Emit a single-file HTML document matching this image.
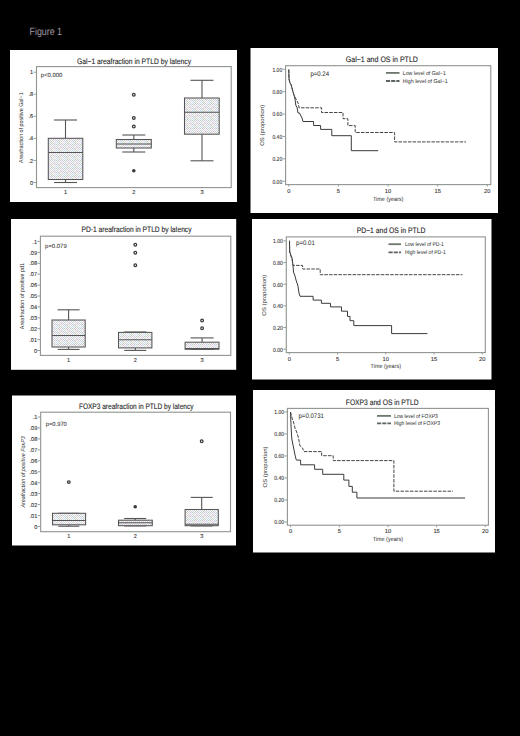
<!DOCTYPE html>
<html><head><meta charset="utf-8"><title>Figure 1</title>
<style>
html,body{margin:0;padding:0;background:#000;}
body{width:520px;height:736px;overflow:hidden;}
svg{display:block;}
text{font-family:"Liberation Sans",sans-serif;text-rendering:geometricPrecision;}
</style></head><body>
<svg width="520" height="736" viewBox="0 0 520 736">
<defs><pattern id="stip" patternUnits="userSpaceOnUse" x="0" y="0" width="8" height="8">
<rect width="8" height="8" fill="#ffffff"/>
<rect x="0" y="0" width="1" height="1" fill="#c0c8c0"/><rect x="1" y="0" width="1" height="1" fill="#f0f8fb"/><rect x="2" y="0" width="1" height="1" fill="#c0c8c0"/><rect x="3" y="0" width="1" height="1" fill="#fbf0f8"/><rect x="4" y="0" width="1" height="1" fill="#ccccea"/><rect x="6" y="0" width="1" height="1" fill="#c0c8c0"/><rect x="7" y="0" width="1" height="1" fill="#f0f8fb"/><rect x="1" y="1" width="1" height="1" fill="#c8e2e6"/><rect x="2" y="1" width="1" height="1" fill="#fbf0f8"/><rect x="3" y="1" width="1" height="1" fill="#eaccc8"/><rect x="5" y="1" width="1" height="1" fill="#c8e2e6"/><rect x="6" y="1" width="1" height="1" fill="#f0f8fb"/><rect x="7" y="1" width="1" height="1" fill="#e6c8e2"/><rect x="0" y="2" width="1" height="1" fill="#c6dcc6"/><rect x="1" y="2" width="1" height="1" fill="#fbf0f8"/><rect x="2" y="2" width="1" height="1" fill="#ece6c6"/><rect x="3" y="2" width="1" height="1" fill="#f0f8fb"/><rect x="4" y="2" width="1" height="1" fill="#e6c8e2"/><rect x="5" y="2" width="1" height="1" fill="#f0f8fb"/><rect x="6" y="2" width="1" height="1" fill="#c8e2e6"/><rect x="1" y="3" width="1" height="1" fill="#ccccea"/><rect x="3" y="3" width="1" height="1" fill="#e6c8e2"/><rect x="4" y="3" width="1" height="1" fill="#fbf0f8"/><rect x="5" y="3" width="1" height="1" fill="#bcc8bc"/><rect x="6" y="3" width="1" height="1" fill="#fbf0f8"/><rect x="7" y="3" width="1" height="1" fill="#ccccea"/><rect x="0" y="4" width="1" height="1" fill="#ccccea"/><rect x="1" y="4" width="1" height="1" fill="#f2f2f2"/><rect x="2" y="4" width="1" height="1" fill="#c0c8c0"/><rect x="4" y="4" width="1" height="1" fill="#c8e2e6"/><rect x="5" y="4" width="1" height="1" fill="#fbf0f8"/><rect x="6" y="4" width="1" height="1" fill="#eaccc8"/><rect x="7" y="4" width="1" height="1" fill="#fbf0f8"/><rect x="0" y="5" width="1" height="1" fill="#f0f8fb"/><rect x="1" y="5" width="1" height="1" fill="#c8e2e6"/><rect x="2" y="5" width="1" height="1" fill="#f2f2f2"/><rect x="3" y="5" width="1" height="1" fill="#bcc8bc"/><rect x="5" y="5" width="1" height="1" fill="#eaccc8"/><rect x="7" y="5" width="1" height="1" fill="#c8e2e6"/><rect x="0" y="6" width="1" height="1" fill="#c8e2e6"/><rect x="1" y="6" width="1" height="1" fill="#fbf0f8"/><rect x="2" y="6" width="1" height="1" fill="#c8e2e6"/><rect x="3" y="6" width="1" height="1" fill="#f2f2f2"/><rect x="4" y="6" width="1" height="1" fill="#c6dcc6"/><rect x="6" y="6" width="1" height="1" fill="#e6c8e2"/><rect x="1" y="7" width="1" height="1" fill="#ccccea"/><rect x="3" y="7" width="1" height="1" fill="#c0c8c0"/><rect x="4" y="7" width="1" height="1" fill="#fbf0f8"/><rect x="5" y="7" width="1" height="1" fill="#c6dcc6"/><rect x="6" y="7" width="1" height="1" fill="#fbf0f8"/><rect x="7" y="7" width="1" height="1" fill="#c8e2e6"/>
</pattern></defs>
<rect x="0" y="0" width="520" height="736" fill="#000"/>

<text x="29.50" y="34.80" font-size="10.5" fill="#a39aa3" textLength="32.50" lengthAdjust="spacingAndGlyphs" >Figure 1</text>
<rect x="10.00" y="50.00" width="227.00" height="152.00" fill="#ffffff" stroke="none" stroke-width="1"/>
<rect x="36.50" y="66.60" width="194.70" height="121.00" fill="none" stroke="#8e948e" stroke-width="1.1"/>
<text x="77.00" y="63.60" font-size="8.0" fill="#262626" stroke="#262626" stroke-width="0.12" textLength="114.00" lengthAdjust="spacingAndGlyphs" >Gal−1 areafraction in PTLD by latency</text>
<line x1="33.50" y1="182.50" x2="36.50" y2="182.50" stroke="#8e948e" stroke-width="0.9" />
<text x="33.10" y="184.60" font-size="5.6" fill="#2e2e2e" stroke="#2e2e2e" stroke-width="0.08" text-anchor="end" >0</text>
<line x1="33.50" y1="160.44" x2="36.50" y2="160.44" stroke="#8e948e" stroke-width="0.9" />
<text x="33.10" y="162.54" font-size="5.6" fill="#2e2e2e" stroke="#2e2e2e" stroke-width="0.08" text-anchor="end" >.2</text>
<line x1="33.50" y1="138.38" x2="36.50" y2="138.38" stroke="#8e948e" stroke-width="0.9" />
<text x="33.10" y="140.48" font-size="5.6" fill="#2e2e2e" stroke="#2e2e2e" stroke-width="0.08" text-anchor="end" >.4</text>
<line x1="33.50" y1="116.32" x2="36.50" y2="116.32" stroke="#8e948e" stroke-width="0.9" />
<text x="33.10" y="118.42" font-size="5.6" fill="#2e2e2e" stroke="#2e2e2e" stroke-width="0.08" text-anchor="end" >.6</text>
<line x1="33.50" y1="94.26" x2="36.50" y2="94.26" stroke="#8e948e" stroke-width="0.9" />
<text x="33.10" y="96.36" font-size="5.6" fill="#2e2e2e" stroke="#2e2e2e" stroke-width="0.08" text-anchor="end" >.8</text>
<line x1="33.50" y1="72.20" x2="36.50" y2="72.20" stroke="#8e948e" stroke-width="0.9" />
<text x="33.10" y="74.30" font-size="5.6" fill="#2e2e2e" stroke="#2e2e2e" stroke-width="0.08" text-anchor="end" >1</text>
<text x="0.00" y="0.00" font-size="5.8" fill="#2e2e2e" text-anchor="middle" textLength="70.70" lengthAdjust="spacingAndGlyphs" transform="translate(21.50,127.70) rotate(-90)" dy="1.9">Areafraction of positive Gal−1</text>
<text x="65.50" y="194.10" font-size="5.6" fill="#2e2e2e" stroke="#2e2e2e" stroke-width="0.08" text-anchor="middle" >1</text>
<line x1="65.50" y1="120.00" x2="65.50" y2="138.30" stroke="#555555" stroke-width="1.1" />
<line x1="54.00" y1="120.00" x2="77.00" y2="120.00" stroke="#555555" stroke-width="1.1" />
<line x1="65.50" y1="179.50" x2="65.50" y2="182.50" stroke="#555555" stroke-width="1.1" />
<line x1="54.00" y1="182.50" x2="77.00" y2="182.50" stroke="#555555" stroke-width="1.1" />
<rect x="48.30" y="138.30" width="34.50" height="41.20" fill="url(#stip)" stroke="#555555" stroke-width="1.05"/>
<line x1="48.30" y1="152.50" x2="82.80" y2="152.50" stroke="#555555" stroke-width="1.05" />
<text x="133.80" y="194.10" font-size="5.6" fill="#2e2e2e" stroke="#2e2e2e" stroke-width="0.08" text-anchor="middle" >2</text>
<line x1="133.80" y1="135.00" x2="133.80" y2="139.50" stroke="#555555" stroke-width="1.1" />
<line x1="122.30" y1="135.00" x2="145.30" y2="135.00" stroke="#555555" stroke-width="1.1" />
<line x1="133.80" y1="148.00" x2="133.80" y2="152.00" stroke="#555555" stroke-width="1.1" />
<line x1="122.30" y1="152.00" x2="145.30" y2="152.00" stroke="#555555" stroke-width="1.1" />
<rect x="116.30" y="139.50" width="35.00" height="8.50" fill="url(#stip)" stroke="#555555" stroke-width="1.05"/>
<line x1="116.30" y1="144.00" x2="151.30" y2="144.00" stroke="#555555" stroke-width="1.05" />
<circle cx="133.80" cy="94.80" r="1.35" fill="#fff" stroke="#3a3a3a" stroke-width="1.25"/>
<circle cx="133.80" cy="118.00" r="1.35" fill="#fff" stroke="#3a3a3a" stroke-width="1.25"/>
<circle cx="133.80" cy="126.40" r="1.35" fill="#fff" stroke="#3a3a3a" stroke-width="1.25"/>
<circle cx="133.80" cy="170.80" r="1.8" fill="#3a3a3a"/>
<text x="202.00" y="194.10" font-size="5.6" fill="#2e2e2e" stroke="#2e2e2e" stroke-width="0.08" text-anchor="middle" >3</text>
<line x1="202.00" y1="80.30" x2="202.00" y2="98.00" stroke="#555555" stroke-width="1.1" />
<line x1="190.50" y1="80.30" x2="213.50" y2="80.30" stroke="#555555" stroke-width="1.1" />
<line x1="202.00" y1="134.20" x2="202.00" y2="160.80" stroke="#555555" stroke-width="1.1" />
<line x1="190.50" y1="160.80" x2="213.50" y2="160.80" stroke="#555555" stroke-width="1.1" />
<rect x="184.50" y="98.00" width="34.70" height="36.20" fill="url(#stip)" stroke="#555555" stroke-width="1.05"/>
<line x1="184.50" y1="112.30" x2="219.20" y2="112.30" stroke="#555555" stroke-width="1.05" />
<text x="40.80" y="76.70" font-size="6.0" fill="#2e2e2e" stroke="#2e2e2e" stroke-width="0.05" textLength="21.60" lengthAdjust="spacingAndGlyphs" >p&lt;0.000</text>
<rect x="11.00" y="219.00" width="225.20" height="150.80" fill="#ffffff" stroke="none" stroke-width="1"/>
<rect x="40.40" y="236.20" width="190.40" height="119.20" fill="none" stroke="#8e948e" stroke-width="1.1"/>
<text x="81.50" y="232.40" font-size="8.0" fill="#262626" stroke="#262626" stroke-width="0.12" textLength="110.00" lengthAdjust="spacingAndGlyphs" >PD-1 areafraction in PTLD by latency</text>
<line x1="37.40" y1="350.50" x2="40.40" y2="350.50" stroke="#8e948e" stroke-width="0.9" />
<text x="37.00" y="352.60" font-size="5.6" fill="#2e2e2e" stroke="#2e2e2e" stroke-width="0.08" text-anchor="end" >0</text>
<line x1="37.40" y1="339.60" x2="40.40" y2="339.60" stroke="#8e948e" stroke-width="0.9" />
<text x="37.00" y="341.70" font-size="5.6" fill="#2e2e2e" stroke="#2e2e2e" stroke-width="0.08" text-anchor="end" >.01</text>
<line x1="37.40" y1="328.70" x2="40.40" y2="328.70" stroke="#8e948e" stroke-width="0.9" />
<text x="37.00" y="330.80" font-size="5.6" fill="#2e2e2e" stroke="#2e2e2e" stroke-width="0.08" text-anchor="end" >.02</text>
<line x1="37.40" y1="317.80" x2="40.40" y2="317.80" stroke="#8e948e" stroke-width="0.9" />
<text x="37.00" y="319.90" font-size="5.6" fill="#2e2e2e" stroke="#2e2e2e" stroke-width="0.08" text-anchor="end" >.03</text>
<line x1="37.40" y1="306.90" x2="40.40" y2="306.90" stroke="#8e948e" stroke-width="0.9" />
<text x="37.00" y="309.00" font-size="5.6" fill="#2e2e2e" stroke="#2e2e2e" stroke-width="0.08" text-anchor="end" >.04</text>
<line x1="37.40" y1="296.00" x2="40.40" y2="296.00" stroke="#8e948e" stroke-width="0.9" />
<text x="37.00" y="298.10" font-size="5.6" fill="#2e2e2e" stroke="#2e2e2e" stroke-width="0.08" text-anchor="end" >.05</text>
<line x1="37.40" y1="285.10" x2="40.40" y2="285.10" stroke="#8e948e" stroke-width="0.9" />
<text x="37.00" y="287.20" font-size="5.6" fill="#2e2e2e" stroke="#2e2e2e" stroke-width="0.08" text-anchor="end" >.06</text>
<line x1="37.40" y1="274.20" x2="40.40" y2="274.20" stroke="#8e948e" stroke-width="0.9" />
<text x="37.00" y="276.30" font-size="5.6" fill="#2e2e2e" stroke="#2e2e2e" stroke-width="0.08" text-anchor="end" >.07</text>
<line x1="37.40" y1="263.30" x2="40.40" y2="263.30" stroke="#8e948e" stroke-width="0.9" />
<text x="37.00" y="265.40" font-size="5.6" fill="#2e2e2e" stroke="#2e2e2e" stroke-width="0.08" text-anchor="end" >.08</text>
<line x1="37.40" y1="252.40" x2="40.40" y2="252.40" stroke="#8e948e" stroke-width="0.9" />
<text x="37.00" y="254.50" font-size="5.6" fill="#2e2e2e" stroke="#2e2e2e" stroke-width="0.08" text-anchor="end" >.09</text>
<line x1="37.40" y1="241.50" x2="40.40" y2="241.50" stroke="#8e948e" stroke-width="0.9" />
<text x="37.00" y="243.60" font-size="5.6" fill="#2e2e2e" stroke="#2e2e2e" stroke-width="0.08" text-anchor="end" >.1</text>
<text x="0.00" y="0.00" font-size="5.8" fill="#2e2e2e" text-anchor="middle" textLength="66.30" lengthAdjust="spacingAndGlyphs" transform="translate(22.10,296.00) rotate(-90)" dy="1.9">Areafraction of positive pd1</text>
<text x="68.60" y="361.90" font-size="5.6" fill="#2e2e2e" stroke="#2e2e2e" stroke-width="0.08" text-anchor="middle" >1</text>
<line x1="68.60" y1="309.80" x2="68.60" y2="320.00" stroke="#555555" stroke-width="1.1" />
<line x1="57.60" y1="309.80" x2="79.60" y2="309.80" stroke="#555555" stroke-width="1.1" />
<line x1="68.60" y1="347.00" x2="68.60" y2="349.40" stroke="#555555" stroke-width="1.1" />
<line x1="57.60" y1="349.40" x2="79.60" y2="349.40" stroke="#555555" stroke-width="1.1" />
<rect x="52.00" y="320.00" width="33.20" height="27.00" fill="url(#stip)" stroke="#555555" stroke-width="1.05"/>
<line x1="52.00" y1="335.40" x2="85.20" y2="335.40" stroke="#555555" stroke-width="1.05" />
<text x="135.30" y="361.90" font-size="5.6" fill="#2e2e2e" stroke="#2e2e2e" stroke-width="0.08" text-anchor="middle" >2</text>
<line x1="135.30" y1="332.00" x2="135.30" y2="332.40" stroke="#555555" stroke-width="1.1" />
<line x1="124.30" y1="332.00" x2="146.30" y2="332.00" stroke="#555555" stroke-width="1.1" />
<line x1="135.30" y1="347.90" x2="135.30" y2="350.40" stroke="#555555" stroke-width="1.1" />
<line x1="124.30" y1="350.40" x2="146.30" y2="350.40" stroke="#555555" stroke-width="1.1" />
<rect x="118.50" y="332.40" width="33.40" height="15.50" fill="url(#stip)" stroke="#555555" stroke-width="1.05"/>
<line x1="118.50" y1="339.70" x2="151.90" y2="339.70" stroke="#555555" stroke-width="1.05" />
<circle cx="135.30" cy="244.80" r="1.35" fill="#fff" stroke="#3a3a3a" stroke-width="1.25"/>
<circle cx="135.30" cy="252.80" r="1.35" fill="#fff" stroke="#3a3a3a" stroke-width="1.25"/>
<circle cx="135.30" cy="265.20" r="1.35" fill="#fff" stroke="#3a3a3a" stroke-width="1.25"/>
<text x="202.10" y="361.90" font-size="5.6" fill="#2e2e2e" stroke="#2e2e2e" stroke-width="0.08" text-anchor="middle" >3</text>
<line x1="202.10" y1="337.90" x2="202.10" y2="342.20" stroke="#555555" stroke-width="1.1" />
<line x1="190.60" y1="337.90" x2="213.60" y2="337.90" stroke="#555555" stroke-width="1.1" />
<line x1="190.60" y1="349.40" x2="213.60" y2="349.40" stroke="#555555" stroke-width="1.1" />
<rect x="185.10" y="342.20" width="33.90" height="7.00" fill="url(#stip)" stroke="#555555" stroke-width="1.05"/>
<line x1="185.10" y1="348.60" x2="219.00" y2="348.60" stroke="#555555" stroke-width="1.05" />
<circle cx="202.10" cy="320.40" r="1.35" fill="#fff" stroke="#3a3a3a" stroke-width="1.25"/>
<circle cx="202.10" cy="328.20" r="1.35" fill="#fff" stroke="#3a3a3a" stroke-width="1.25"/>
<text x="45.10" y="248.00" font-size="6.0" fill="#2e2e2e" stroke="#2e2e2e" stroke-width="0.05" textLength="21.60" lengthAdjust="spacingAndGlyphs" >p=0.079</text>
<rect x="12.00" y="395.50" width="224.00" height="150.00" fill="#ffffff" stroke="none" stroke-width="1"/>
<rect x="40.70" y="412.20" width="189.80" height="119.50" fill="none" stroke="#8e948e" stroke-width="1.1"/>
<text x="78.90" y="409.10" font-size="8.0" fill="#262626" stroke="#262626" stroke-width="0.12" textLength="114.60" lengthAdjust="spacingAndGlyphs" >FOXP3 areafraction in PTLD by latency</text>
<line x1="37.70" y1="526.50" x2="40.70" y2="526.50" stroke="#8e948e" stroke-width="0.9" />
<text x="37.30" y="528.60" font-size="5.6" fill="#2e2e2e" stroke="#2e2e2e" stroke-width="0.08" text-anchor="end" >0</text>
<line x1="37.70" y1="515.55" x2="40.70" y2="515.55" stroke="#8e948e" stroke-width="0.9" />
<text x="37.30" y="517.65" font-size="5.6" fill="#2e2e2e" stroke="#2e2e2e" stroke-width="0.08" text-anchor="end" >.01</text>
<line x1="37.70" y1="504.60" x2="40.70" y2="504.60" stroke="#8e948e" stroke-width="0.9" />
<text x="37.30" y="506.70" font-size="5.6" fill="#2e2e2e" stroke="#2e2e2e" stroke-width="0.08" text-anchor="end" >.02</text>
<line x1="37.70" y1="493.65" x2="40.70" y2="493.65" stroke="#8e948e" stroke-width="0.9" />
<text x="37.30" y="495.75" font-size="5.6" fill="#2e2e2e" stroke="#2e2e2e" stroke-width="0.08" text-anchor="end" >.03</text>
<line x1="37.70" y1="482.70" x2="40.70" y2="482.70" stroke="#8e948e" stroke-width="0.9" />
<text x="37.30" y="484.80" font-size="5.6" fill="#2e2e2e" stroke="#2e2e2e" stroke-width="0.08" text-anchor="end" >.04</text>
<line x1="37.70" y1="471.75" x2="40.70" y2="471.75" stroke="#8e948e" stroke-width="0.9" />
<text x="37.30" y="473.85" font-size="5.6" fill="#2e2e2e" stroke="#2e2e2e" stroke-width="0.08" text-anchor="end" >.05</text>
<line x1="37.70" y1="460.80" x2="40.70" y2="460.80" stroke="#8e948e" stroke-width="0.9" />
<text x="37.30" y="462.90" font-size="5.6" fill="#2e2e2e" stroke="#2e2e2e" stroke-width="0.08" text-anchor="end" >.06</text>
<line x1="37.70" y1="449.85" x2="40.70" y2="449.85" stroke="#8e948e" stroke-width="0.9" />
<text x="37.30" y="451.95" font-size="5.6" fill="#2e2e2e" stroke="#2e2e2e" stroke-width="0.08" text-anchor="end" >.07</text>
<line x1="37.70" y1="438.90" x2="40.70" y2="438.90" stroke="#8e948e" stroke-width="0.9" />
<text x="37.30" y="441.00" font-size="5.6" fill="#2e2e2e" stroke="#2e2e2e" stroke-width="0.08" text-anchor="end" >.08</text>
<line x1="37.70" y1="427.95" x2="40.70" y2="427.95" stroke="#8e948e" stroke-width="0.9" />
<text x="37.30" y="430.05" font-size="5.6" fill="#2e2e2e" stroke="#2e2e2e" stroke-width="0.08" text-anchor="end" >.09</text>
<line x1="37.70" y1="417.00" x2="40.70" y2="417.00" stroke="#8e948e" stroke-width="0.9" />
<text x="37.30" y="419.10" font-size="5.6" fill="#2e2e2e" stroke="#2e2e2e" stroke-width="0.08" text-anchor="end" >.1</text>
<text x="0.00" y="0.00" font-size="5.8" fill="#2e2e2e" text-anchor="middle" textLength="71.20" lengthAdjust="spacingAndGlyphs" transform="translate(22.60,471.90) rotate(-90)" dy="1.9" font-style="italic">Areafraction of positive FoxP3</text>
<text x="68.80" y="538.20" font-size="5.6" fill="#2e2e2e" stroke="#2e2e2e" stroke-width="0.08" text-anchor="middle" >1</text>
<line x1="58.30" y1="513.30" x2="79.30" y2="513.30" stroke="#555555" stroke-width="1.1" />
<line x1="68.80" y1="524.80" x2="68.80" y2="526.20" stroke="#555555" stroke-width="1.1" />
<line x1="58.30" y1="526.20" x2="79.30" y2="526.20" stroke="#555555" stroke-width="1.1" />
<rect x="52.50" y="513.30" width="33.10" height="11.50" fill="url(#stip)" stroke="#555555" stroke-width="1.05"/>
<line x1="52.50" y1="520.40" x2="85.60" y2="520.40" stroke="#555555" stroke-width="1.05" />
<circle cx="68.80" cy="482.10" r="1.35" fill="#fff" stroke="#3a3a3a" stroke-width="1.25"/>
<text x="135.20" y="538.20" font-size="5.6" fill="#2e2e2e" stroke="#2e2e2e" stroke-width="0.08" text-anchor="middle" >2</text>
<line x1="135.20" y1="518.50" x2="135.20" y2="520.20" stroke="#555555" stroke-width="1.1" />
<line x1="124.20" y1="518.50" x2="146.20" y2="518.50" stroke="#555555" stroke-width="1.1" />
<line x1="124.20" y1="525.90" x2="146.20" y2="525.90" stroke="#555555" stroke-width="1.1" />
<rect x="118.50" y="520.20" width="33.80" height="5.50" fill="url(#stip)" stroke="#555555" stroke-width="1.05"/>
<line x1="118.50" y1="522.80" x2="152.30" y2="522.80" stroke="#555555" stroke-width="1.05" />
<circle cx="135.20" cy="506.70" r="1.8" fill="#3a3a3a"/>
<text x="201.70" y="538.20" font-size="5.6" fill="#2e2e2e" stroke="#2e2e2e" stroke-width="0.08" text-anchor="middle" >3</text>
<line x1="201.70" y1="497.40" x2="201.70" y2="509.50" stroke="#555555" stroke-width="1.1" />
<line x1="190.70" y1="497.40" x2="212.70" y2="497.40" stroke="#555555" stroke-width="1.1" />
<line x1="190.70" y1="525.90" x2="212.70" y2="525.90" stroke="#555555" stroke-width="1.1" />
<rect x="185.10" y="509.50" width="33.20" height="16.20" fill="url(#stip)" stroke="#555555" stroke-width="1.05"/>
<line x1="185.10" y1="524.20" x2="218.30" y2="524.20" stroke="#555555" stroke-width="1.05" />
<circle cx="201.70" cy="441.20" r="1.35" fill="#fff" stroke="#3a3a3a" stroke-width="1.25"/>
<text x="45.80" y="425.60" font-size="6.0" fill="#2e2e2e" stroke="#2e2e2e" stroke-width="0.05" textLength="21.00" lengthAdjust="spacingAndGlyphs" >p=0.970</text>
<rect x="250.50" y="48.00" width="247.50" height="165.00" fill="#ffffff" stroke="none" stroke-width="1"/>
<rect x="285.60" y="65.70" width="205.20" height="118.90" fill="none" stroke="#8e948e" stroke-width="1.1"/>
<text x="345.80" y="61.60" font-size="8.0" fill="#262626" stroke="#262626" stroke-width="0.12" textLength="72.10" lengthAdjust="spacingAndGlyphs" >Gal−1 and OS in PTLD</text>
<line x1="282.60" y1="181.20" x2="285.60" y2="181.20" stroke="#8e948e" stroke-width="0.9" />
<text x="282.20" y="183.50" font-size="5.9" fill="#2e2e2e" stroke="#2e2e2e" stroke-width="0.08" text-anchor="end" textLength="9.80" lengthAdjust="spacingAndGlyphs" >0.00</text>
<line x1="282.60" y1="158.82" x2="285.60" y2="158.82" stroke="#8e948e" stroke-width="0.9" />
<text x="282.20" y="161.12" font-size="5.9" fill="#2e2e2e" stroke="#2e2e2e" stroke-width="0.08" text-anchor="end" textLength="9.80" lengthAdjust="spacingAndGlyphs" >0.20</text>
<line x1="282.60" y1="136.44" x2="285.60" y2="136.44" stroke="#8e948e" stroke-width="0.9" />
<text x="282.20" y="138.74" font-size="5.9" fill="#2e2e2e" stroke="#2e2e2e" stroke-width="0.08" text-anchor="end" textLength="9.80" lengthAdjust="spacingAndGlyphs" >0.40</text>
<line x1="282.60" y1="114.06" x2="285.60" y2="114.06" stroke="#8e948e" stroke-width="0.9" />
<text x="282.20" y="116.36" font-size="5.9" fill="#2e2e2e" stroke="#2e2e2e" stroke-width="0.08" text-anchor="end" textLength="9.80" lengthAdjust="spacingAndGlyphs" >0.60</text>
<line x1="282.60" y1="91.68" x2="285.60" y2="91.68" stroke="#8e948e" stroke-width="0.9" />
<text x="282.20" y="93.98" font-size="5.9" fill="#2e2e2e" stroke="#2e2e2e" stroke-width="0.08" text-anchor="end" textLength="9.80" lengthAdjust="spacingAndGlyphs" >0.80</text>
<line x1="282.60" y1="69.30" x2="285.60" y2="69.30" stroke="#8e948e" stroke-width="0.9" />
<text x="282.20" y="71.60" font-size="5.9" fill="#2e2e2e" stroke="#2e2e2e" stroke-width="0.08" text-anchor="end" textLength="9.80" lengthAdjust="spacingAndGlyphs" >1.00</text>
<line x1="288.80" y1="184.60" x2="288.80" y2="186.60" stroke="#8e948e" stroke-width="0.9" />
<text x="288.80" y="192.70" font-size="5.8" fill="#2e2e2e" stroke="#2e2e2e" stroke-width="0.08" text-anchor="middle" >0</text>
<line x1="338.43" y1="184.60" x2="338.43" y2="186.60" stroke="#8e948e" stroke-width="0.9" />
<text x="338.43" y="192.70" font-size="5.8" fill="#2e2e2e" stroke="#2e2e2e" stroke-width="0.08" text-anchor="middle" >5</text>
<line x1="388.05" y1="184.60" x2="388.05" y2="186.60" stroke="#8e948e" stroke-width="0.9" />
<text x="388.05" y="192.70" font-size="5.8" fill="#2e2e2e" stroke="#2e2e2e" stroke-width="0.08" text-anchor="middle" >10</text>
<line x1="437.68" y1="184.60" x2="437.68" y2="186.60" stroke="#8e948e" stroke-width="0.9" />
<text x="437.68" y="192.70" font-size="5.8" fill="#2e2e2e" stroke="#2e2e2e" stroke-width="0.08" text-anchor="middle" >15</text>
<line x1="487.30" y1="184.60" x2="487.30" y2="186.60" stroke="#8e948e" stroke-width="0.9" />
<text x="487.30" y="192.70" font-size="5.8" fill="#2e2e2e" stroke="#2e2e2e" stroke-width="0.08" text-anchor="middle" >20</text>
<text x="388.20" y="200.60" font-size="6.0" fill="#2e2e2e" text-anchor="middle" textLength="30.50" lengthAdjust="spacingAndGlyphs" >Time (years)</text>
<text x="0.00" y="0.00" font-size="5.6" fill="#2e2e2e" text-anchor="middle" textLength="41.00" lengthAdjust="spacingAndGlyphs" transform="translate(262.50,125.30) rotate(-90)" dy="1.9">OS (proportion)</text>
<line x1="385.90" y1="72.90" x2="399.50" y2="72.90" stroke="#6e766e" stroke-width="1.8" />
<line x1="385.90" y1="81.00" x2="399.50" y2="81.00" stroke="#5e645e" stroke-width="1.8" stroke-dasharray="4.2 1.0"/>
<text x="402.80" y="74.80" font-size="5.6" fill="#2e2e2e" textLength="43.00" lengthAdjust="spacingAndGlyphs" >Low level of Gal−1</text>
<text x="402.80" y="82.90" font-size="5.6" fill="#2e2e2e" textLength="44.90" lengthAdjust="spacingAndGlyphs" >High level of Gal−1</text>
<polyline points="288.80,69.50 289.00,79.00 290.00,83.00 291.00,84.50 292.00,88.00 293.00,92.00 294.00,95.00 295.00,99.00 295.50,103.00 296.00,106.00 297.00,107.00 297.50,110.00 298.00,113.00 299.50,113.00 301.00,116.00 302.00,118.00 303.00,121.50 313.60,121.50 313.60,125.50 320.60,125.50 320.60,129.40 331.80,129.40 331.80,135.70 351.30,135.70 351.30,150.70 378.20,150.70" fill="none" stroke="#3a3a3a" stroke-width="1.0" stroke-linejoin="miter"/>
<polyline points="288.80,69.50 289.00,79.00 290.00,83.00 291.00,84.50 292.00,88.00 293.00,92.00 294.00,95.00 295.50,98.00 297.00,101.00 298.50,104.00 299.00,107.80 321.60,107.80 321.60,112.50 343.00,112.50 343.00,118.70 347.90,118.70 347.90,125.60 355.20,125.60 355.20,132.50 394.60,132.50 394.60,141.90 466.00,141.90" fill="none" stroke="#444" stroke-width="1.0" stroke-dasharray="3.5 1.2"/>
<text x="310.40" y="75.60" font-size="6.6" fill="#2e2e2e" stroke="#2e2e2e" stroke-width="0.04" textLength="18.70" lengthAdjust="spacingAndGlyphs" >p=0.24</text>
<rect x="252.00" y="219.00" width="239.50" height="160.50" fill="#ffffff" stroke="none" stroke-width="1"/>
<rect x="286.30" y="236.90" width="199.00" height="115.70" fill="none" stroke="#8e948e" stroke-width="1.1"/>
<text x="356.70" y="233.30" font-size="8.0" fill="#262626" stroke="#262626" stroke-width="0.12" textLength="68.70" lengthAdjust="spacingAndGlyphs" >PD−1 and OS in PTLD</text>
<line x1="283.30" y1="349.20" x2="286.30" y2="349.20" stroke="#8e948e" stroke-width="0.9" />
<text x="282.90" y="351.50" font-size="5.9" fill="#2e2e2e" stroke="#2e2e2e" stroke-width="0.08" text-anchor="end" textLength="9.80" lengthAdjust="spacingAndGlyphs" >0.00</text>
<line x1="283.30" y1="327.54" x2="286.30" y2="327.54" stroke="#8e948e" stroke-width="0.9" />
<text x="282.90" y="329.84" font-size="5.9" fill="#2e2e2e" stroke="#2e2e2e" stroke-width="0.08" text-anchor="end" textLength="9.80" lengthAdjust="spacingAndGlyphs" >0.20</text>
<line x1="283.30" y1="305.88" x2="286.30" y2="305.88" stroke="#8e948e" stroke-width="0.9" />
<text x="282.90" y="308.18" font-size="5.9" fill="#2e2e2e" stroke="#2e2e2e" stroke-width="0.08" text-anchor="end" textLength="9.80" lengthAdjust="spacingAndGlyphs" >0.40</text>
<line x1="283.30" y1="284.22" x2="286.30" y2="284.22" stroke="#8e948e" stroke-width="0.9" />
<text x="282.90" y="286.52" font-size="5.9" fill="#2e2e2e" stroke="#2e2e2e" stroke-width="0.08" text-anchor="end" textLength="9.80" lengthAdjust="spacingAndGlyphs" >0.60</text>
<line x1="283.30" y1="262.56" x2="286.30" y2="262.56" stroke="#8e948e" stroke-width="0.9" />
<text x="282.90" y="264.86" font-size="5.9" fill="#2e2e2e" stroke="#2e2e2e" stroke-width="0.08" text-anchor="end" textLength="9.80" lengthAdjust="spacingAndGlyphs" >0.80</text>
<line x1="283.30" y1="240.90" x2="286.30" y2="240.90" stroke="#8e948e" stroke-width="0.9" />
<text x="282.90" y="243.20" font-size="5.9" fill="#2e2e2e" stroke="#2e2e2e" stroke-width="0.08" text-anchor="end" textLength="9.80" lengthAdjust="spacingAndGlyphs" >1.00</text>
<line x1="289.30" y1="352.60" x2="289.30" y2="354.60" stroke="#8e948e" stroke-width="0.9" />
<text x="289.30" y="360.70" font-size="5.8" fill="#2e2e2e" stroke="#2e2e2e" stroke-width="0.08" text-anchor="middle" >0</text>
<line x1="337.55" y1="352.60" x2="337.55" y2="354.60" stroke="#8e948e" stroke-width="0.9" />
<text x="337.55" y="360.70" font-size="5.8" fill="#2e2e2e" stroke="#2e2e2e" stroke-width="0.08" text-anchor="middle" >5</text>
<line x1="385.80" y1="352.60" x2="385.80" y2="354.60" stroke="#8e948e" stroke-width="0.9" />
<text x="385.80" y="360.70" font-size="5.8" fill="#2e2e2e" stroke="#2e2e2e" stroke-width="0.08" text-anchor="middle" >10</text>
<line x1="434.05" y1="352.60" x2="434.05" y2="354.60" stroke="#8e948e" stroke-width="0.9" />
<text x="434.05" y="360.70" font-size="5.8" fill="#2e2e2e" stroke="#2e2e2e" stroke-width="0.08" text-anchor="middle" >15</text>
<line x1="482.30" y1="352.60" x2="482.30" y2="354.60" stroke="#8e948e" stroke-width="0.9" />
<text x="482.30" y="360.70" font-size="5.8" fill="#2e2e2e" stroke="#2e2e2e" stroke-width="0.08" text-anchor="middle" >20</text>
<text x="385.80" y="367.80" font-size="6.0" fill="#2e2e2e" text-anchor="middle" textLength="30.50" lengthAdjust="spacingAndGlyphs" >Time (years)</text>
<text x="0.00" y="0.00" font-size="5.6" fill="#2e2e2e" text-anchor="middle" textLength="41.00" lengthAdjust="spacingAndGlyphs" transform="translate(263.80,295.20) rotate(-90)" dy="1.9">OS (proportion)</text>
<line x1="388.50" y1="244.20" x2="401.00" y2="244.20" stroke="#6e766e" stroke-width="1.8" />
<line x1="388.50" y1="252.30" x2="401.00" y2="252.30" stroke="#5e645e" stroke-width="1.8" stroke-dasharray="4.2 1.0"/>
<text x="404.90" y="246.10" font-size="5.6" fill="#2e2e2e" textLength="38.90" lengthAdjust="spacingAndGlyphs" >Low level of PD-1</text>
<text x="404.90" y="254.20" font-size="5.6" fill="#2e2e2e" textLength="40.90" lengthAdjust="spacingAndGlyphs" >High level of PD-1</text>
<polyline points="289.50,240.80 289.70,252.00 290.50,254.00 291.00,256.00 292.00,258.00 292.50,262.00 293.00,265.00 293.50,272.00 295.00,276.00 296.00,280.00 297.00,283.00 298.00,286.00 298.50,290.00 299.00,293.00 300.00,296.30 313.10,296.30 313.10,300.10 321.40,300.10 321.40,303.30 330.50,303.30 330.50,306.90 341.50,306.90 341.50,311.20 347.50,311.20 347.50,316.40 350.00,316.40 350.00,320.70 353.80,320.70 353.80,325.60 391.60,325.60 391.60,333.60 427.40,333.60" fill="none" stroke="#3a3a3a" stroke-width="1.0" stroke-linejoin="miter"/>
<polyline points="289.50,240.80 289.70,252.00 290.50,254.00 291.00,256.00 292.00,258.00 292.50,262.00 293.00,265.40 302.60,265.40 302.60,269.00 320.20,269.00 320.20,274.70 462.50,274.70" fill="none" stroke="#444" stroke-width="1.0" stroke-dasharray="3.5 1.2"/>
<text x="296.00" y="245.30" font-size="6.6" fill="#2e2e2e" stroke="#2e2e2e" stroke-width="0.04" textLength="18.80" lengthAdjust="spacingAndGlyphs" >p=0.01</text>
<rect x="253.00" y="390.00" width="242.00" height="162.50" fill="#ffffff" stroke="none" stroke-width="1"/>
<rect x="287.40" y="408.40" width="201.00" height="116.80" fill="none" stroke="#8e948e" stroke-width="1.1"/>
<text x="345.80" y="404.60" font-size="8.0" fill="#262626" stroke="#262626" stroke-width="0.12" textLength="72.70" lengthAdjust="spacingAndGlyphs" >FOXP3 and OS in PTLD</text>
<line x1="284.40" y1="522.00" x2="287.40" y2="522.00" stroke="#8e948e" stroke-width="0.9" />
<text x="284.00" y="524.30" font-size="5.9" fill="#2e2e2e" stroke="#2e2e2e" stroke-width="0.08" text-anchor="end" textLength="9.80" lengthAdjust="spacingAndGlyphs" >0.00</text>
<line x1="284.40" y1="499.98" x2="287.40" y2="499.98" stroke="#8e948e" stroke-width="0.9" />
<text x="284.00" y="502.28" font-size="5.9" fill="#2e2e2e" stroke="#2e2e2e" stroke-width="0.08" text-anchor="end" textLength="9.80" lengthAdjust="spacingAndGlyphs" >0.20</text>
<line x1="284.40" y1="477.96" x2="287.40" y2="477.96" stroke="#8e948e" stroke-width="0.9" />
<text x="284.00" y="480.26" font-size="5.9" fill="#2e2e2e" stroke="#2e2e2e" stroke-width="0.08" text-anchor="end" textLength="9.80" lengthAdjust="spacingAndGlyphs" >0.40</text>
<line x1="284.40" y1="455.94" x2="287.40" y2="455.94" stroke="#8e948e" stroke-width="0.9" />
<text x="284.00" y="458.24" font-size="5.9" fill="#2e2e2e" stroke="#2e2e2e" stroke-width="0.08" text-anchor="end" textLength="9.80" lengthAdjust="spacingAndGlyphs" >0.60</text>
<line x1="284.40" y1="433.92" x2="287.40" y2="433.92" stroke="#8e948e" stroke-width="0.9" />
<text x="284.00" y="436.22" font-size="5.9" fill="#2e2e2e" stroke="#2e2e2e" stroke-width="0.08" text-anchor="end" textLength="9.80" lengthAdjust="spacingAndGlyphs" >0.80</text>
<line x1="284.40" y1="411.90" x2="287.40" y2="411.90" stroke="#8e948e" stroke-width="0.9" />
<text x="284.00" y="414.20" font-size="5.9" fill="#2e2e2e" stroke="#2e2e2e" stroke-width="0.08" text-anchor="end" textLength="9.80" lengthAdjust="spacingAndGlyphs" >1.00</text>
<line x1="290.60" y1="525.20" x2="290.60" y2="527.20" stroke="#8e948e" stroke-width="0.9" />
<text x="290.60" y="533.30" font-size="5.8" fill="#2e2e2e" stroke="#2e2e2e" stroke-width="0.08" text-anchor="middle" >0</text>
<line x1="339.28" y1="525.20" x2="339.28" y2="527.20" stroke="#8e948e" stroke-width="0.9" />
<text x="339.28" y="533.30" font-size="5.8" fill="#2e2e2e" stroke="#2e2e2e" stroke-width="0.08" text-anchor="middle" >5</text>
<line x1="387.95" y1="525.20" x2="387.95" y2="527.20" stroke="#8e948e" stroke-width="0.9" />
<text x="387.95" y="533.30" font-size="5.8" fill="#2e2e2e" stroke="#2e2e2e" stroke-width="0.08" text-anchor="middle" >10</text>
<line x1="436.62" y1="525.20" x2="436.62" y2="527.20" stroke="#8e948e" stroke-width="0.9" />
<text x="436.62" y="533.30" font-size="5.8" fill="#2e2e2e" stroke="#2e2e2e" stroke-width="0.08" text-anchor="middle" >15</text>
<line x1="485.30" y1="525.20" x2="485.30" y2="527.20" stroke="#8e948e" stroke-width="0.9" />
<text x="485.30" y="533.30" font-size="5.8" fill="#2e2e2e" stroke="#2e2e2e" stroke-width="0.08" text-anchor="middle" >20</text>
<text x="387.90" y="541.00" font-size="6.0" fill="#2e2e2e" text-anchor="middle" textLength="30.50" lengthAdjust="spacingAndGlyphs" >Time (years)</text>
<text x="0.00" y="0.00" font-size="5.6" fill="#2e2e2e" text-anchor="middle" textLength="41.00" lengthAdjust="spacingAndGlyphs" transform="translate(264.90,467.00) rotate(-90)" dy="1.9">OS (proportion)</text>
<line x1="377.00" y1="415.90" x2="391.00" y2="415.90" stroke="#6e766e" stroke-width="1.8" />
<line x1="377.00" y1="423.40" x2="391.00" y2="423.40" stroke="#5e645e" stroke-width="1.8" stroke-dasharray="4.2 1.0"/>
<text x="393.90" y="417.80" font-size="5.6" fill="#2e2e2e" textLength="43.90" lengthAdjust="spacingAndGlyphs" >Low level of FOXP3</text>
<text x="393.90" y="425.30" font-size="5.6" fill="#2e2e2e" textLength="46.20" lengthAdjust="spacingAndGlyphs" >High level of FOXP3</text>
<polyline points="290.50,412.00 291.00,425.00 291.50,435.00 292.00,440.00 293.00,445.00 294.00,450.00 295.00,455.00 296.00,459.00 296.50,460.10 300.60,460.10 300.60,464.80 314.60,464.80 314.60,469.30 322.70,469.30 322.70,474.30 343.80,474.30 343.80,480.10 348.90,480.10 348.90,486.40 352.30,486.40 352.30,492.20 356.90,492.20 356.90,498.00 465.10,498.00" fill="none" stroke="#3a3a3a" stroke-width="1.0" stroke-linejoin="miter"/>
<polyline points="290.50,412.00 292.00,418.00 293.50,422.00 295.00,428.00 297.00,433.00 298.50,438.00 300.00,446.00 302.50,448.00 304.00,451.60 321.70,451.60 321.70,455.70 333.20,455.70 333.20,460.60 393.90,460.60 393.90,491.20 453.00,491.20" fill="none" stroke="#444" stroke-width="1.0" stroke-dasharray="3.5 1.2"/>
<text x="298.50" y="417.60" font-size="6.6" fill="#2e2e2e" stroke="#2e2e2e" stroke-width="0.04" textLength="25.40" lengthAdjust="spacingAndGlyphs" >p=0.0731</text>
</svg>
</body></html>
